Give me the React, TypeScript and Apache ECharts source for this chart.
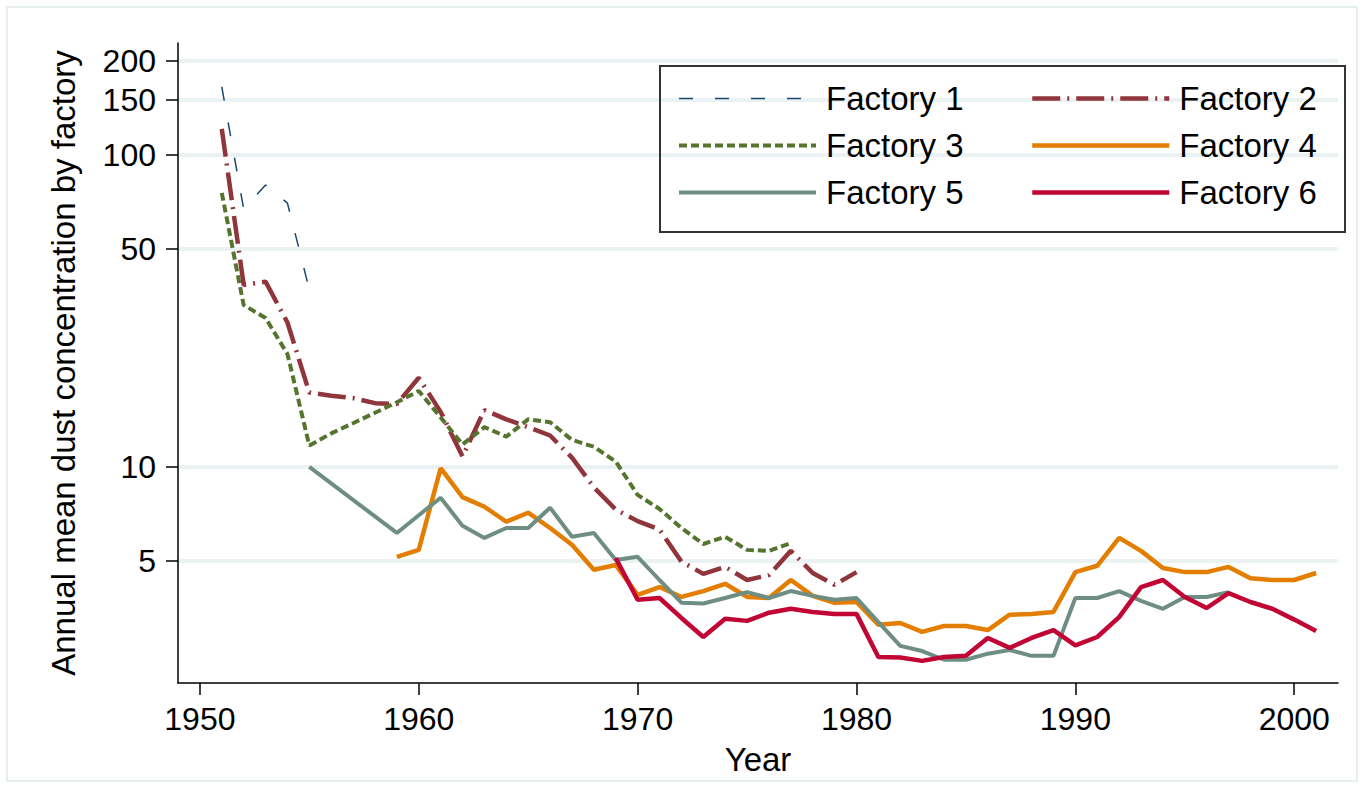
import React, { useEffect, useRef } from "react";
import * as echarts from "echarts";

const yearsF1 = [1951, 1952, 1953, 1954, 1955];
const valuesF1 = [165, 67, 80, 70, 37];

const startF2 = 1951;
const valuesF2 = [121, 38.3, 39.2, 29, 17.3, 16.9, 16.6, 16.0, 15.9, 19.3, 15.0, 10.8, 15.2, 14.2, 13.4, 12.6, 10.7, 8.6, 7.3, 6.7, 6.3, 4.97, 4.54, 4.78, 4.34, 4.5, 5.38, 4.57, 4.19, 4.6];

const startF3 = 1951;
const valuesF3 = [75.5, 33, 30, 23, 11.7, 12.8, 13.8, 14.9, 16.1, 17.5, 14.4, 11.8, 13.4, 12.5, 14.2, 13.9, 12.2, 11.6, 10.4, 8.13, 7.33, 6.37, 5.66, 5.97, 5.42, 5.38, 5.7];

const startF4 = 1959;
const valuesF4 = [5.15, 5.42, 9.9, 8.0, 7.45, 6.67, 7.13, 6.37, 5.63, 4.68, 4.85, 3.89, 4.12, 3.83, 4.0, 4.22, 3.83, 3.8, 4.34, 3.86, 3.67, 3.69, 3.12, 3.16, 2.96, 3.09, 3.09, 3.0, 3.36, 3.38, 3.43, 4.6, 4.82, 5.92, 5.38, 4.74, 4.6, 4.6, 4.78, 4.4, 4.34, 4.34, 4.57];

const startF5 = 1955;
const valuesF5 = [10, null, null, null, 6.14, 7.0, 7.96, 6.47, 5.92, 6.37, 6.37, 7.4, 5.97, 6.14, 5.03, 5.15, 4.34, 3.67, 3.65, 3.8, 3.97, 3.8, 4.0, 3.86, 3.75, 3.8, 3.18, 2.67, 2.57, 2.41, 2.41, 2.52, 2.59, 2.48, 2.48, 3.8, 3.8, 4.0, 3.72, 3.51, 3.83, 3.83, 3.97];

const startF6 = 1969;
const valuesF6 = [5.1, 3.75, 3.8, 3.28, 2.85, 3.26, 3.21, 3.41, 3.51, 3.43, 3.38, 3.38, 2.46, 2.45, 2.39, 2.46, 2.48, 2.83, 2.63, 2.83, 3.0, 2.68, 2.85, 3.3, 4.12, 4.34, 3.83, 3.53, 3.94, 3.69, 3.51, 3.24, 2.98];

const xTicks = [1950, 1960, 1970, 1980, 1990, 2000];
const yTicks = [5, 10, 50, 100, 150, 200];

const names = ["Factory 1", "Factory 2", "Factory 3", "Factory 4", "Factory 5", "Factory 6"];
const colors = ["#1a476f", "#90353b", "#55752f", "#e37e00", "#6e8e84", "#c10534"];

const FONT = "'Liberation Sans', Arial, sans-serif";

function fromStart(start: number, vals: (number | null)[]) {
  return vals.map((v, i) => [start + i, v]);
}

export default function App() {
  const ref = useRef<HTMLDivElement>(null);
  useEffect(() => {
    if (!ref.current) return;
    const chart = echarts.init(ref.current, undefined, { renderer: "svg" });
    const seriesData = [
      yearsF1.map((y, i) => [y, valuesF1[i]]),
      fromStart(startF2, valuesF2),
      fromStart(startF3, valuesF3),
      fromStart(startF4, valuesF4),
      fromStart(startF5, valuesF5),
      fromStart(startF6, valuesF6),
    ];
    const styles: any[] = [
      { width: 1.5, type: [14, 22] },
      { width: 4.5, type: [28, 7, 2, 7] },
      { width: 4, type: [8, 4] },
      { width: 4.5, type: "solid" },
      { width: 4, type: "solid" },
      { width: 4.5, type: "solid" },
    ];
    const legendCommon = {
      orient: "vertical",
      itemWidth: 137,
      itemHeight: 14,
      itemGap: 14,
      textStyle: {
        fontSize: 33,
        color: "#000",
        fontFamily: FONT,
        lineHeight: 33,
        padding: [0, 0, 0, 5],
      },
      itemStyle: { opacity: 0, borderWidth: 0 },
      lineStyle: { width: "inherit" },
      selectedMode: false,
    };
    chart.setOption({
      animation: false,
      backgroundColor: "#fff",
      grid: { left: 178, right: 26, top: 43, bottom: 105 },
      legend: [
        { ...legendCommon, left: 672, top: 77, data: [names[0], names[2], names[4]] },
        { ...legendCommon, left: 1025, top: 77, data: [names[1], names[3], names[5]] },
      ],
      graphic: [
        {
          type: "rect",
          shape: { x: 660, y: 66, width: 685, height: 166 },
          style: { fill: "none", stroke: "#333", lineWidth: 2 },
          z: 100,
        },
        {
          type: "rect",
          shape: { x: 7, y: 7, width: 1350, height: 774 },
          style: { fill: "none", stroke: "#e6eef0", lineWidth: 2 },
          z: -1,
        },
      ],
      xAxis: {
        type: "value",
        min: 1949,
        max: 2002,
        name: "Year",
        nameLocation: "middle",
        nameGap: 60,
        nameTextStyle: { fontSize: 33, color: "#000", fontFamily: FONT },
        axisLine: { onZero: false, lineStyle: { color: "#000", width: 1.5 } },
        axisTick: { customValues: xTicks, length: 12, lineStyle: { color: "#000", width: 1.5 } },
        axisLabel: {
          customValues: xTicks,
          formatter: (v: number) => String(v),
          fontSize: 32,
          color: "#000",
          fontFamily: FONT,
          margin: 20,
        },
        splitLine: { show: false },
      },
      yAxis: {
        type: "log",
        logBase: 10,
        min: 2.03,
        max: 228,
        name: "Annual mean dust concentration by factory",
        nameLocation: "middle",
        nameGap: 98,
        nameTextStyle: { fontSize: 33, color: "#000", fontFamily: FONT },
        axisLine: { show: true, lineStyle: { color: "#000", width: 1.5 } },
        axisTick: { show: true, customValues: yTicks, length: 12, lineStyle: { color: "#000", width: 1.5 } },
        axisLabel: {
          customValues: yTicks,
          formatter: (v: number) => String(v),
          fontSize: 32,
          color: "#000",
          fontFamily: FONT,
          margin: 22,
        },
        splitLine: { show: true, lineStyle: { color: "#eaf2f3", width: 4 } },
        minorTick: { show: false },
        minorSplitLine: { show: false },
      },
      series: names.map((n, i) => ({
        name: n,
        type: "line",
        data: seriesData[i],
        symbol: "none",
        showSymbol: false,
        connectNulls: true,
        color: colors[i],
        lineStyle: { color: colors[i], ...styles[i] },
        z: 2 + i,
      })),
    });
    return () => chart.dispose();
  }, []);
  return (
    <div
      ref={ref}
      style={{ position: "fixed", left: 0, top: 0, width: 1364, height: 788 }}
    />
  );
}
